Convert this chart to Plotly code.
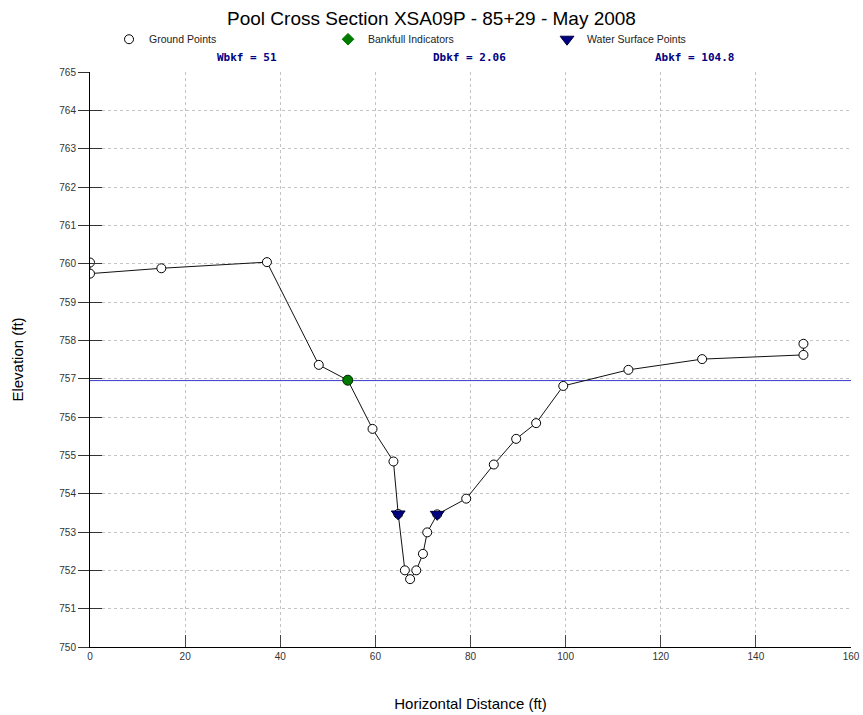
import plotly.graph_objects as go

# Data
ground_x = [0, 0, 15, 37.2, 48.1, 54.2, 59.4, 63.8, 64.8, 66.2, 67.3, 68.6, 70.0, 70.9, 73.0, 79.1, 84.9, 89.6, 93.8, 99.5, 113.2, 128.7, 150.0, 150.0]
ground_y = [760.03, 759.74, 759.88, 760.04, 757.36, 756.96, 755.69, 754.84, 753.47, 752.0, 751.77, 752.0, 752.43, 752.99, 753.46, 753.87, 754.76, 755.43, 755.84, 756.81, 757.23, 757.51, 757.62, 757.91]
bankfull_x = [54.2]
bankfull_y = [756.96]
water_x = [64.8, 73.0]
water_y = [753.47, 753.46]
bankfull_elev = 756.95
x_range = [0, 160]
y_range = [750, 765]
stats = ["Wbkf = 51", "Dbkf = 2.06", "Abkf = 104.8"]
stats_x = [0.206, 0.499, 0.794]

fig = go.Figure()

# bankfull elevation line across full width
fig.add_trace(go.Scatter(x=x_range, y=[bankfull_elev, bankfull_elev], mode="lines",
                         line=dict(color="#3a3acc", width=1), showlegend=False, hoverinfo="skip"))
# ground line
fig.add_trace(go.Scatter(x=ground_x, y=ground_y, mode="lines",
                         line=dict(color="#111", width=1), showlegend=False))
# ground points
fig.add_trace(go.Scatter(x=ground_x, y=ground_y, mode="markers", name="Ground Points",
                         marker=dict(symbol="circle", size=9, color="white",
                                     line=dict(color="black", width=1))))
# bankfull point (drawn as a filled circle, legend shows a diamond)
fig.add_trace(go.Scatter(x=bankfull_x, y=bankfull_y, mode="markers", name="Bankfull Indicators",
                         showlegend=False,
                         marker=dict(symbol="circle", size=10, color="#007a00",
                                     line=dict(color="#003300", width=1))))
fig.add_trace(go.Scatter(x=[None], y=[None], mode="markers", name="Bankfull Indicators",
                         marker=dict(symbol="diamond", size=9, color="#007a00",
                                     line=dict(color="#007a00", width=1))))
fig.add_trace(go.Scatter(x=water_x, y=water_y, mode="markers", name="Water Surface Points",
                         marker=dict(symbol="triangle-down", size=12, color="#000080",
                                     line=dict(color="#000040", width=1))))
# overlay axis for inside y ticks
fig.add_trace(go.Scatter(x=[None], y=[None], yaxis="y2", showlegend=False))

for sx, st in zip(stats_x, stats):
    fig.add_annotation(x=sx, y=1.026, xref="paper", yref="paper", text="<b>" + st + "</b>",
                       xanchor="center", yanchor="middle",
                       showarrow=False, font=dict(family="DejaVu Sans Mono", size=11, color="#000080"))

fig.update_layout(
    width=863, height=715,
    margin=dict(l=90, r=12, t=72, b=68),
    paper_bgcolor="white", plot_bgcolor="white",
    font=dict(family="Liberation Sans, Arial", color="black"),
    title=dict(text="Pool Cross Section XSA09P - 85+29 - May 2008", x=0.5, xanchor="center",
               y=0.975, yanchor="middle", yref="container",
               font=dict(size=19, color="black")),
    legend=dict(orientation="h", x=0.025, xanchor="left", y=1.057, yanchor="middle",
                font=dict(size=10.5, color="#222"), entrywidth=174, entrywidthmode="pixels",
                bgcolor="rgba(0,0,0,0)", itemsizing="trace"),
    xaxis=dict(range=x_range, dtick=20, tick0=0, showline=True, linecolor="black", linewidth=1,
               ticks="inside", ticklen=12, tickcolor="#444", showgrid=True, automargin=False,
               gridcolor="#c4c4c4", griddash="3px,3px", gridwidth=1, zeroline=False,
               tickfont=dict(size=10, color="#333"),
               title=dict(text="Horizontal Distance (ft)", font=dict(size=15), standoff=37)),
    yaxis=dict(range=y_range, dtick=1, tick0=750, showline=True, linecolor="black", linewidth=1,
               ticks="outside", ticklen=11, tickcolor="#333", showgrid=True, automargin=False,
               gridcolor="#c4c4c4", griddash="3px,3px", gridwidth=1, zeroline=False,
               tickfont=dict(size=10, color="#333"),
               title=dict(text="Elevation (ft)", font=dict(size=15), standoff=32)),
    yaxis2=dict(range=y_range, dtick=1, tick0=750, overlaying="y", side="left",
                ticks="inside", ticklen=12, tickcolor="#333", showticklabels=False,
                showgrid=False, zeroline=False, showline=False, automargin=False),
)

fig.write_html("out.html")
